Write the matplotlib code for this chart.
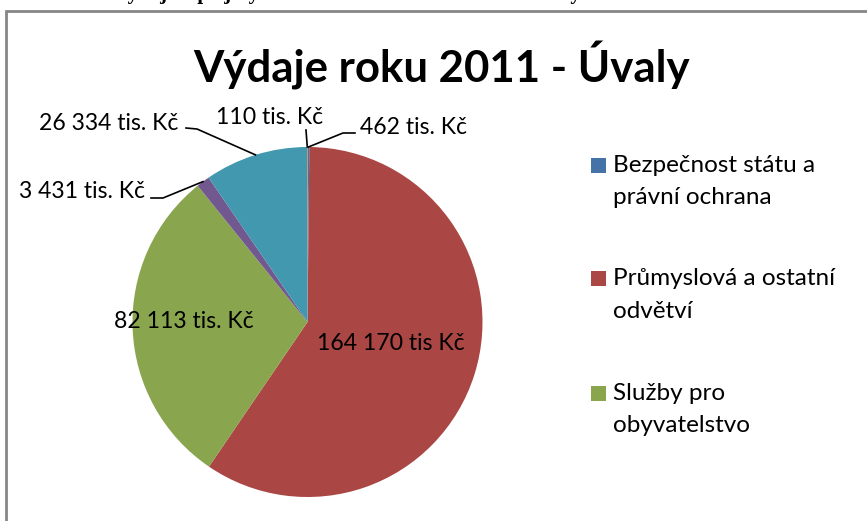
import matplotlib
matplotlib.use("Agg")
import numpy as np
from matplotlib import pyplot as plt
from matplotlib.patches import Rectangle

# data
categories = ["Bezpečnost státu a\nprávní ochrana", "Průmyslová a ostatní\nodvětví",
              "Služby pro\nobyvatelstvo", "Ostatní", "Územní samospráva", "Finanční operace"]
values = [462, 164170, 82113, 3431, 26334, 110]
value_labels = ["462 tis. Kč", "164 170 tis Kč", "82 113 tis. Kč", "3 431 tis. Kč",
                "26 334 tis. Kč", "110 tis. Kč"]
colors = ["#4572A7", "#AA4643", "#89A54E", "#71588F", "#4198AF", "#DB843D"]
title = "Výdaje roku 2011 - Úvaly"
caption = "Celkové výdaje a příjmy v roce 2011 dle odvětví města Úvaly"

W, H = 867, 521
fig = plt.figure(figsize=(W / 100, H / 100), dpi=100)
plt.rcParams['font.family'] = ['Lato', 'DejaVu Sans']

def fx(px):
    return px / W

def fy(py):
    return 1 - py / H

# chart frame (cut off at right and bottom)
fig.patches.append(Rectangle((fx(6), fy(H + 20)), fx(W + 20), (H + 9) / H,
                             transform=fig.transFigure, fill=False,
                             edgecolor="#868686", linewidth=2))

# caption above the chart, cut off by the top edge as in the source
fig.text(fx(40), fy(-0.5), caption, ha="left", va="baseline", fontsize=15,
         fontweight="bold", family="Liberation Serif")

fig.text(fx(442), fy(65), title, ha="center", va="center", fontsize=31.5,
         fontweight="bold")

# pie
cx, cy, r = 307.5, 322, 175
ax = fig.add_axes([fx(cx - r), fy(cy + r), 2 * r / W, 2 * r / H])
wedges, _ = ax.pie(values, colors=colors, startangle=90, counterclock=False,
                   wedgeprops=dict(linewidth=0))
ax.set_xlim(-1, 1)
ax.set_ylim(-1, 1)
ax.set_aspect("auto")
ax.axis("off")

def d(px, py):
    return ((px - cx) / r, (cy - py) / r)

# label placement (px) and leader elbows
label_pos = [(360, 128, "left"), (391, 343, "center"), (184, 322, "center"),
             (145, 192, "right"), (178, 123, "right"), (270, 117, "center")]
leaders = {0: [(343, 133), (355, 133)], 3: [(163, 198), (151, 198)],
           4: [(197, 129), (186, 128)], 5: [(306, 130)]}

for i, w in enumerate(wedges):
    px, py, ha = label_pos[i]
    x, y = d(px, py)
    ax.text(x, y, value_labels[i], ha=ha, va="center", fontsize=16.6, color="black",
            clip_on=False)
    if i in leaders:
        mid = np.deg2rad((w.theta1 + w.theta2) / 2)
        pts = [(np.cos(mid), np.sin(mid))] + [d(*p) for p in leaders[i]]
        xs, ys = zip(*pts)
        ax.plot(xs, ys, color="black", linewidth=1.2, clip_on=False)

# legend (first three entries visible)
leg_y = [165, 278, 393]
for i, yy in enumerate(leg_y):
    fig.patches.append(Rectangle((fx(591), fy(yy + 7.5)), 15 / W, 15 / H,
                                 transform=fig.transFigure, facecolor=colors[i],
                                 edgecolor="none"))
    for k, line in enumerate(categories[i].split("\n")):
        fig.text(fx(613), fy(yy + 7 + 32.5 * k), line, ha="left", va="baseline",
                 fontsize=17.5)

fig.savefig("out.png", dpi=100)
